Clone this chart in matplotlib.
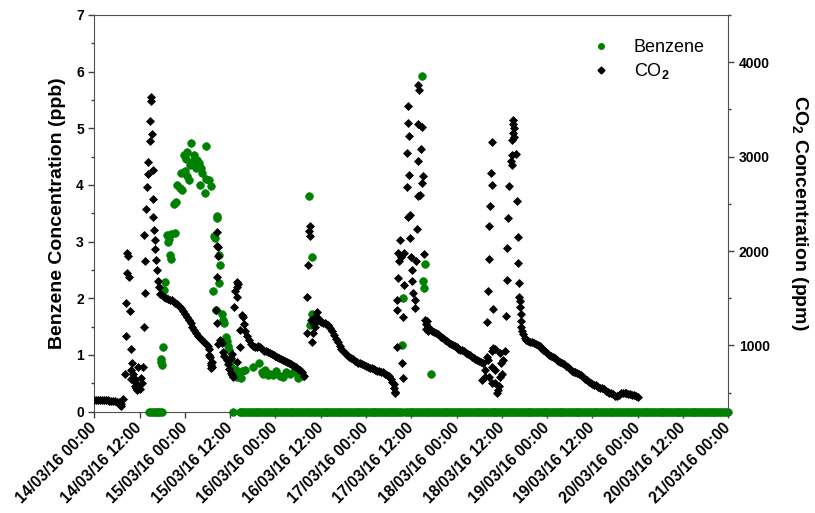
import numpy as np
import pandas as pd
import matplotlib
matplotlib.use("Agg")
import matplotlib.pyplot as plt
import matplotlib.dates as mdates
from matplotlib.lines import Line2D
from matplotlib.ticker import MultipleLocator

plt.rcParams['font.family'] = ['Liberation Sans', 'DejaVu Sans']
plt.rcParams['font.weight'] = 'bold'
plt.rcParams['mathtext.fontset'] = 'custom'
plt.rcParams['mathtext.rm'] = 'Liberation Sans'
plt.rcParams['mathtext.bf'] = 'Liberation Sans:bold'

T0 = pd.Timestamp("2016-03-14 00:00")
T1 = pd.Timestamp("2016-03-21 00:00")
STEP_H = 0.5  # logger interval used for the continuous stretches

# ---- benzene (ppb), hours after 14/03/16 00:00 ----
benz_h = [17.6, 18.0, 17.8, 18.3, 18.65, 18.5, 19.2, 19.5, 20.05, 20.4, 20.4, 21.3, 19.7,
          21.1, 21.6, 22.0, 22.7, 23.3, 22.9, 23.95, 24.6, 25.1, 23.8, 24.6, 25.7, 26.4,
          27.3, 26.0, 26.9, 27.7, 28.2, 28.6, 29.5, 30.4, 31.0, 29.25, 29.5, 24.2, 25.4, 28.0,
          32.4, 32.6, 31.7, 31.9, 33.0, 33.3, 33.1, 31.5, 32.2, 33.8, 34.4, 34.1, 34.8, 35.1,
          35.7, 35.4, 36.1, 36.3, 37.0, 37.9, 38.8, 37.5,
          39.1, 39.9, 42.1, 43.7, 44.4, 44.7, 45.2, 46.0, 46.6, 47.4, 48.1, 49.2, 50.1, 50.8,
          51.9, 52.9, 54.05, 54.5, 55.3,
          57.0, 57.6, 57.6, 57.15,
          81.9, 81.65, 87.6, 87.2, 87.45, 86.75, 89.2]
benz_ppb = [0.92, 0.82, 0.88, 1.14, 2.29, 2.15, 3.12, 3.00, 2.77, 2.70, 3.14, 3.16, 3.05,
            3.67, 3.69, 4.00, 3.95, 3.91, 4.21, 4.24, 4.15, 4.09, 4.53, 4.58, 4.74, 4.53,
            4.44, 4.41, 4.30, 4.39, 4.30, 4.21, 4.10, 4.09, 3.98, 3.85, 4.69, 4.45, 4.35, 4.00,
            3.45, 3.42, 3.09, 3.07, 2.77, 2.59, 2.27, 2.13, 1.79, 1.73, 1.56, 1.62, 1.32, 1.25,
            1.09, 1.15, 0.91, 0.79, 0.68, 0.61, 0.59, 0.74,
            0.72, 0.74, 0.79, 0.86, 0.70, 0.66, 0.73, 0.64, 0.67, 0.64, 0.72, 0.62, 0.61, 0.69,
            0.66, 0.70, 0.60, 0.66, 0.62,
            3.81, 2.73, 1.72, 1.53,
            2.00, 1.18, 2.61, 2.31, 2.18, 5.92, 0.66]
# stretches where benzene reads 0 ppb (start h, end h)
benz_zero_runs = [(14.5, 18.0), (36.8, 36.8), (38.5, 57.5), (58.0, 81.8), (82.3, 87.3), (87.8, 168.0)]

# ---- CO2 (ppm): continuous stretches, one value every STEP_H from start ----
co2_run1_start = 0.0
co2_run1 = [426, 425, 424, 423, 422, 421, 420, 418, 416, 414, 412, 408, 402, 396]
co2_run2_start = 17.5
co2_run2 = [1542, 1530, 1518, 1506, 1494, 1482, 1476, 1464, 1452, 1434, 1416, 1392, 1368,
            1332, 1302, 1272, 1242, 1200, 1164, 1134, 1104, 1074, 1056, 1032, 1014, 990, 966]
co2_run3_start = 40.0
co2_run3 = [1152, 1098, 1056, 1020, 990, 978, 984, 996, 984, 960, 942, 936, 930, 924, 912,
            900, 888, 876, 864, 858, 846, 834, 822, 816, 804, 792, 780, 768, 750, 738, 720, 672]
co2_run4_start = 60.0
co2_run4 = [1248, 1242, 1236, 1230, 1218, 1188, 1152, 1110, 1068, 1032, 996, 966, 942, 918,
            900, 882, 864, 852, 840, 828, 816, 810, 798, 792, 780, 774, 762, 756, 750, 738,
            732, 726, 720, 714, 702, 690, 672, 648, 612, 552]
co2_run5_start = 88.0
co2_run5 = [1230, 1200, 1176, 1152, 1140, 1128, 1116, 1104, 1086, 1074, 1056, 1044, 1026,
            1014, 1002, 990, 978, 966, 954, 948, 936, 924, 912, 894, 882, 870, 858, 846,
            834, 822, 810]
co2_run6_start = 113.5
co2_run6 = [1116, 1080, 1062, 1050, 1038, 1032, 1026, 1020, 1008, 990, 972, 954, 936, 918,
            900, 888, 876, 864, 846, 834, 822, 810, 798, 780, 768, 750, 732, 720, 714, 708,
            702, 684, 666, 648, 630, 612, 600, 588, 582, 576, 564, 552, 546, 540, 522, 510,
            498, 492, 486, 468, 462, 474, 492, 498, 492, 492, 486, 486, 480, 474, 468, 456]

# ---- CO2 (ppm): scattered readings during the peaks ----
co2_peak_h = [6.8, 7.0, 7.2, 7.5, 8.05, 8.4, 8.5, 8.75, 9.0, 8.75, 9.2, 9.46, 9.8, 10.1, 9.6,
              10.3, 9.8, 10.5, 11.0, 11.4, 10.7, 11.2, 10.9, 11.6, 12.0, 11.7, 13.0, 12.3, 12.7,
              13.2, 13.4, 13.45, 13.2, 13.8, 14.05, 14.2, 14.1, 15.5, 14.75, 15.2, 14.75, 14.95,
              15.1, 15.6, 15.65, 15.8, 16.0, 16.15, 16.25, 16.6, 16.9, 17.1,
              30.4, 30.7, 30.9, 31.2, 30.8, 31.3, 31.0, 32.2, 32.4, 32.6, 32.8, 32.6, 32.85,
              32.4, 32.9, 33.3, 33.8, 34.2, 34.5, 35.1, 35.4, 35.8, 36.2, 36.8, 36.5, 36.35,
              36.6, 37.0, 37.3, 37.7, 37.7, 37.9, 38.2, 38.6, 38.6, 37.9, 39.5, 39.7, 39.1,
              56.3, 56.45, 56.5, 57.0, 57.15, 57.05, 57.6, 57.9, 58.5, 58.5, 59.1, 58.1, 58.8,
              59.3, 59.7, 57.4, 79.4, 79.7, 79.8,
              80.1, 81.9, 80.1, 81.45, 81.9, 81.0, 80.55, 81.25, 82.1, 84.0, 85.2, 80.4, 82.1,
              84.3, 84.5, 85.0, 84.9, 84.1, 83.2, 83.0, 85.85, 86.9, 83.4, 82.8, 86.6, 85.7,
              83.4, 87.2, 82.8, 86.75, 85.85, 86.3, 83.05, 83.65, 85.4, 83.65, 85.85, 86.0,
              87.4, 80.3, 80.7, 87.6, 87.8, 88.2, 88.4,
              102.65, 103.5, 104.4, 105.3, 103.5, 106.2, 107.95, 106.2, 107.05, 106.6, 106.2,
              107.5, 108.8, 108.4, 107.5, 105.7, 104.0, 105.5, 104.5, 105.3, 107.7, 107.3,
              105.3, 105.0, 105.3, 110.0, 112.0, 104.85, 109.7, 104.7, 112.35, 109.45, 104.7,
              112.35, 109.3, 112.6, 104.4, 112.6, 105.55, 109.1, 104.1,
              111.0, 111.05, 111.1, 111.0, 111.1, 110.7, 110.6, 111.7, 110.55, 110.7,
              112.8, 112.9, 113.0, 113.1, 113.2, 113.3]
co2_peak_ppm = [372, 354, 384, 432, 696, 1098, 1446, 1974, 1950, 1764, 1722, 1368, 960, 810, 738,
                702, 642, 618, 546, 528, 570, 588, 648, 558, 540, 768, 768, 660, 600,
                1200, 1560, 1890, 2172, 2442, 2682, 2940, 2814, 2862, 3168, 3240, 3378, 3636,
                3594, 2550, 2364, 2226, 2118, 2022, 1908, 1800, 1680, 1620,
                900, 876, 810, 774, 762, 828, 792, 1374, 1728, 2058, 2040, 2202, 1950,
                1236, 1020, 1056, 1026, 930, 888, 846, 804, 750, 708, 666, 684, 870,
                912, 1410, 1572, 1518, 1674, 1620, 1650, 1164, 984, 828, 1302, 1230, 1320,
                1128, 1518, 1854, 2208, 2262, 2160, 1038, 1128, 1302, 1200, 1356, 1230, 1260,
                1290, 1260, 1272, 588, 510, 492,
                1482, 1302, 984, 810, 654, 2118, 1974, 1932, 1974, 1932, 1890, 1710, 1638,
                1680, 1554, 1482, 1392, 1800, 3534, 3354, 3348, 3318, 3216, 3042, 3078, 2958,
                2808, 2796, 2682, 2718, 2580, 2598, 2364, 2382, 2232, 2136, 3762, 3702,
                1968, 1374, 1890, 1272, 1170, 1260, 1152,
                636, 738, 846, 936, 666, 738, 702, 600, 528, 492, 960,
                918, 936, 846, 666, 972, 882, 774, 666, 600, 810, 570,
                3150, 2826, 2700, 2688, 2532, 2478, 2352, 2262, 2148, 2028, 1914,
                1878, 1692, 1662, 1572, 1518, 1386, 1314, 1248,
                3390, 3348, 3300, 3252, 3210, 3180, 3018, 3030, 2952, 2910,
                1470, 1410, 1332, 1260, 1200, 1152]

xtick_fmt = '%d/%m/%y %H:%M'


def to_time(hours):
    return T0 + pd.to_timedelta(np.asarray(hours, dtype=float), unit='h')


green = '#008000'

fig = plt.figure(figsize=(8.15, 5.13), dpi=100)
ax = fig.add_axes([94.3 / 815, 1 - 411.5 / 513, 634 / 815, 396.5 / 513])
ax2 = ax.twinx()

# benzene
zero_h = np.concatenate([np.arange(a, b + 1e-6, STEP_H) for a, b in benz_zero_runs])
ax.plot(to_time(zero_h), np.zeros(len(zero_h)), ls='none', marker='o', ms=5.5, mew=0.5,
        color=green, clip_on=False, zorder=3)
ax.plot(to_time(benz_h), benz_ppb, ls='none', marker='o', ms=5.5, mew=0.5, color=green)

# CO2
runs = [(co2_run1_start, co2_run1), (co2_run2_start, co2_run2), (co2_run3_start, co2_run3),
        (co2_run4_start, co2_run4), (co2_run5_start, co2_run5), (co2_run6_start, co2_run6)]
for start, vals in runs:
    hrs = start + STEP_H * np.arange(len(vals))
    ax2.plot(to_time(hrs), vals, ls='none', marker='D', ms=4.3, mew=0.5, color='black')
ax2.plot(to_time(co2_peak_h), co2_peak_ppm, ls='none', marker='D', ms=4.3, mew=0.5, color='black')

ax.set_xlim(T0, T1)
ax.set_ylim(0, 7)
ax2.set_ylim(300, 4500)

ax.xaxis.set_major_locator(mdates.HourLocator(byhour=[0, 12]))
ax.xaxis.set_major_formatter(mdates.DateFormatter(xtick_fmt))
ax.yaxis.set_major_locator(MultipleLocator(1))
ax.yaxis.set_minor_locator(MultipleLocator(0.5))
ax2.yaxis.set_major_locator(MultipleLocator(1000))
ax2.yaxis.set_minor_locator(MultipleLocator(500))

for a in (ax, ax2):
    a.tick_params(which='major', direction='out', length=4, width=1, labelsize=10, color='#404040')
    a.tick_params(which='minor', direction='out', length=2.5, width=1, color='#404040')
ax.tick_params(axis='x', labelsize=11.3, pad=6)
for lab in ax.get_xticklabels():
    lab.set_rotation(45)
    lab.set_ha('right')
    lab.set_va('center')
    lab.set_rotation_mode('anchor')

for s in ax.spines.values():
    s.set_color('#505050')
ax.spines['right'].set_visible(False)
for k in ('left', 'bottom', 'top'):
    ax2.spines[k].set_visible(False)
ax2.spines['right'].set_color('#505050')

ax.set_ylabel('Benzene Concentration (ppb)', fontsize=14, fontweight='bold', labelpad=7)
ax2.set_ylabel(r'CO$_\mathbf{2}$ Concentration (ppm)', fontsize=14, fontweight='bold',
               rotation=270, va='bottom', labelpad=14)

handles = [Line2D([], [], ls='none', marker='o', ms=4, color=green),
           Line2D([], [], ls='none', marker='D', ms=3.5, color='black')]
ax2.legend(handles, ['Benzene', 'CO$_2$'], loc='upper left', frameon=False,
           bbox_to_anchor=(578 / 815, 1 - 30 / 513), bbox_transform=fig.transFigure,
           prop={'weight': 'normal', 'size': 13}, handletextpad=1.1, borderpad=0,
           labelspacing=0.3, handlelength=1.5)

fig.savefig('out.png', dpi=100)
